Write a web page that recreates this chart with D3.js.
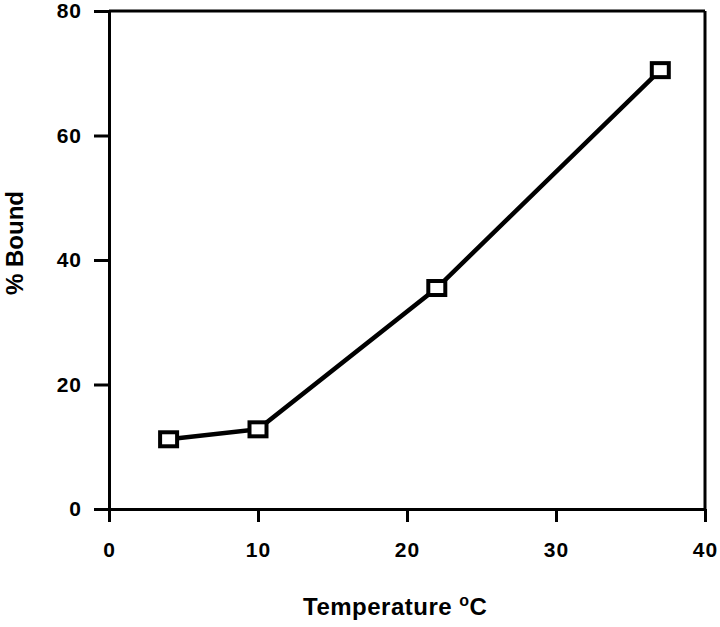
<!DOCTYPE html>
<html>
<head>
<meta charset="utf-8">
<script src="https://cdn.jsdelivr.net/npm/d3@7"></script>
<style>
  body { margin: 0; background: #fff; }
  text { font-family: "Liberation Sans", Arial, sans-serif; font-weight: bold; fill: #000; }
</style>
</head>
<body>
<div id="chart"></div>
<script>
// data
var temps = [4, 10, 22, 37];
var bound = [11.2, 12.8, 35.5, 70.5];
var xTicks = [0, 10, 20, 30, 40];
var yTicks = [0, 20, 40, 60, 80];

var svgWidth = 720, svgHeight = 627;
var margin = { top: 11, right: 15, bottom: 118, left: 109 };
var width = svgWidth - margin.left - margin.right;
var height = svgHeight - margin.top - margin.bottom;

var svg = d3.select("#chart").append("svg")
  .attr("width", svgWidth)
  .attr("height", svgHeight);

var g = svg.append("g")
  .attr("transform", `translate(${margin.left}, ${margin.top})`);

var x = d3.scaleLinear().domain([0, 40]).range([0, width]);
var y = d3.scaleLinear().domain([0, 80]).range([height, 0]);

// frame: top and right edges
g.append("line").attr("x1", 0).attr("x2", width).attr("y1", 0).attr("y2", 0)
  .attr("stroke", "#000").attr("stroke-width", 3);
g.append("line").attr("x1", width).attr("x2", width).attr("y1", 0).attr("y2", height)
  .attr("stroke", "#000").attr("stroke-width", 3);

var xAxis = g.append("g")
  .attr("transform", `translate(0, ${height})`)
  .call(d3.axisBottom(x).tickValues(xTicks).tickSize(13).tickPadding(20).tickSizeOuter(0));

var yAxis = g.append("g")
  .call(d3.axisLeft(y).tickValues(yTicks).tickSize(15).tickPadding(12).tickSizeOuter(0));

[xAxis, yAxis].forEach(function(ax) {
  ax.select(".domain").attr("stroke", "#000").attr("stroke-width", 3);
  ax.selectAll(".tick line").attr("stroke", "#000").attr("stroke-width", 3);
  ax.selectAll(".tick text")
    .style("font-family", "'Liberation Sans', Arial, sans-serif")
    .style("font-weight", "bold")
    .style("font-size", "21px")
    .style("letter-spacing", "1px")
    .attr("fill", "#000");
});

var pts = temps.map(function(t, i) { return { t: t, b: bound[i] }; });

var line = d3.line().x(d => x(d.t)).y(d => y(d.b));

g.append("path")
  .datum(pts)
  .attr("d", line)
  .attr("fill", "none")
  .attr("stroke", "#000")
  .attr("stroke-width", 4.5);

var sw = 17, sh = 14;
g.selectAll(".pt")
  .data(pts)
  .enter()
  .append("rect")
  .attr("class", "pt")
  .attr("x", d => x(d.t) - sw / 2)
  .attr("y", d => y(d.b) - sh / 2)
  .attr("width", sw)
  .attr("height", sh)
  .attr("fill", "#fff")
  .attr("stroke", "#000")
  .attr("stroke-width", 4);

// axis titles
var xt = svg.append("text")
  .attr("x", 303)
  .attr("y", 615)
  .style("font-size", "24px")
  .style("letter-spacing", "0.5px");
xt.append("tspan").text("Temperature ");
xt.append("tspan").text("o").style("font-size", "16px").attr("dy", -9);
xt.append("tspan").text("C").attr("dy", 9);

svg.append("text")
  .attr("transform", "translate(23, 243) rotate(-90)")
  .attr("text-anchor", "middle")
  .style("font-size", "24px")
  .text("% Bound");
</script>
</body>
</html>
